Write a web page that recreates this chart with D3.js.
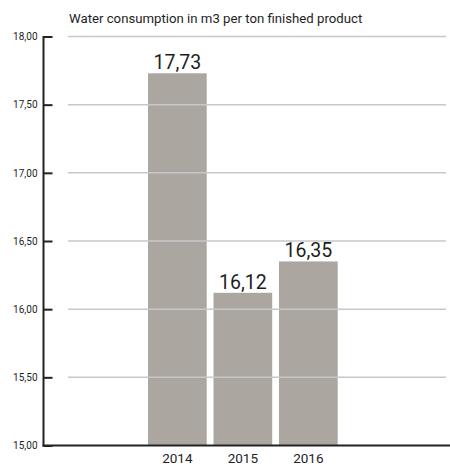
<!DOCTYPE html>
<html>
<head>
<meta charset="utf-8">
<script src="https://cdn.jsdelivr.net/npm/d3@7"></script>
<style>
  html, body { margin: 0; padding: 0; background: #fff; }
  svg { display: block; }
  text { font-family: Roboto, "Noto Sans", sans-serif; fill: #1e1e1e; }
</style>
</head>
<body>
<svg id="chart" width="450" height="469"></svg>
<script>
const title = "Water consumption in m3 per ton finished product";
const years = ["2014", "2015", "2016"];
const values = [17.73, 16.12, 16.35];
const valueLabels = ["17,73", "16,12", "16,35"];
const yTicks = [15.0, 15.5, 16.0, 16.5, 17.0, 17.5, 18.0];
const yTickLabels = ["15,00", "15,50", "16,00", "16,50", "17,00", "17,50", "18,00"];

const svg = d3.select("#chart");
const y = d3.scaleLinear().domain([15, 18]).range([445.5, 36.5]);
const x = d3.scaleBand().domain(years).range([144.6, 341.1]).paddingInner(0.104).paddingOuter(0.052);
const axisX = 43.5;

// title
svg.append("text")
  .attr("x", 69).attr("y", 23)
  .attr("font-size", 13.2)
  .text(title);

// bars
svg.append("g").selectAll("rect")
  .data(years)
  .join("rect")
  .attr("x", d => x(d))
  .attr("width", x.bandwidth())
  .attr("y", (d, i) => y(values[i]))
  .attr("height", (d, i) => y(15) - y(values[i]))
  .attr("fill", "#aba69f");

// gridlines (drawn over bars)
svg.append("g").selectAll("line")
  .data(yTicks.filter(t => t > 15))
  .join("line")
  .attr("x1", 68).attr("x2", 446)
  .attr("y1", d => y(d)).attr("y2", d => y(d))
  .attr("stroke", "#c6c7cb")
  .attr("stroke-width", 1.5);

// y axis
const yAxis = d3.axisLeft(y)
  .tickValues(yTicks)
  .tickFormat((d, i) => yTickLabels[i])
  .tickSize(-9)
  .tickPadding(-2);
const gy = svg.append("g").attr("transform", `translate(${axisX},0)`).call(yAxis);
gy.select(".domain").remove();
gy.selectAll(".tick line").attr("stroke", "#222").attr("stroke-width", 2);
gy.selectAll(".tick text")
  .attr("x", -6)
  .attr("font-size", 10)
  .attr("font-family", "Roboto, sans-serif")
  .attr("fill", "#333");
svg.append("line")
  .attr("x1", axisX).attr("x2", axisX)
  .attr("y1", y(18) - 0.5).attr("y2", y(15) + 1)
  .attr("stroke", "#222").attr("stroke-width", 2);

// x axis
const xAxis = d3.axisBottom(x).tickSize(0).tickPadding(8);
const gx = svg.append("g").attr("transform", `translate(0,${y(15)})`).call(xAxis);
gx.select(".domain").remove();
gx.selectAll(".tick text")
  .attr("font-size", 13.5)
  .attr("font-family", "Roboto, sans-serif")
  .attr("fill", "#222");
svg.append("line")
  .attr("x1", axisX - 1).attr("x2", 450)
  .attr("y1", y(15)).attr("y2", y(15))
  .attr("stroke", "#222").attr("stroke-width", 2);

// value labels
svg.append("g").selectAll("text")
  .data(years)
  .join("text")
  .attr("x", d => x(d) + x.bandwidth() / 2)
  .attr("y", (d, i) => y(values[i]) - 4)
  .attr("text-anchor", "middle")
  .attr("font-size", 19.5)
  .attr("fill", "#1a1a1a")
  .text((d, i) => valueLabels[i]);
</script>
</body>
</html>
